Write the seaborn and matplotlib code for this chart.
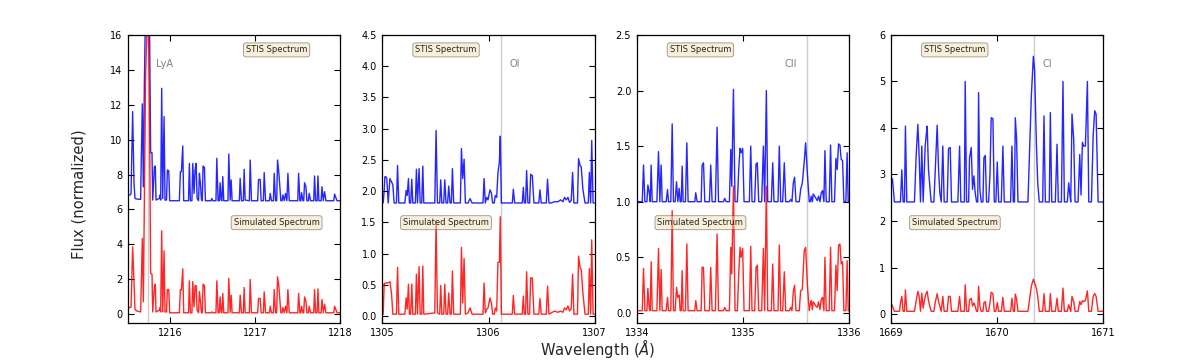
import matplotlib
matplotlib.use("Agg")
import matplotlib.pyplot as plt
import seaborn as sns
from matplotlib.ticker import MultipleLocator

# ---- data (wavelength in Angstrom, flux normalized) ----
line_names = ["LyA", "OI", "CII", "CI"]
line_waves = [1215.73, 1306.12, 1335.60, 1670.35]

wl_lya = [1215.510, 1215.524, 1215.536, 1215.555, 1215.571, 1215.583, 1215.602, 1215.649, 1215.657, 1215.669,
          1215.681, 1215.693, 1215.708, 1215.735, 1215.751, 1215.767, 1215.783, 1215.791, 1215.811, 1215.822,
          1215.830, 1215.869, 1215.877, 1215.885, 1215.897, 1215.909, 1215.925, 1215.936, 1215.954, 1215.964,
          1215.980, 1215.991, 1216.105, 1216.117, 1216.129, 1216.145, 1216.156, 1216.213, 1216.223, 1216.235,
          1216.253, 1216.263, 1216.278, 1216.290, 1216.302, 1216.314, 1216.331, 1216.341, 1216.353, 1216.365,
          1216.375, 1216.384, 1216.400, 1216.412, 1216.477, 1216.487, 1216.498, 1216.536, 1216.546, 1216.561,
          1216.575, 1216.585, 1216.597, 1216.606, 1216.616, 1216.628, 1216.677, 1216.687, 1216.703, 1216.715,
          1216.726, 1216.811, 1216.821, 1216.836, 1216.858, 1216.868, 1216.880, 1216.929, 1216.939, 1216.954,
          1217.027, 1217.037, 1217.057, 1217.068, 1217.094, 1217.104, 1217.120, 1217.165, 1217.175, 1217.190,
          1217.212, 1217.222, 1217.237, 1217.251, 1217.261, 1217.277, 1217.300, 1217.314, 1217.324, 1217.340,
          1217.355, 1217.371, 1217.383, 1217.399, 1217.499, 1217.509, 1217.524, 1217.535, 1217.544, 1217.560,
          1217.569, 1217.579, 1217.595, 1217.607, 1217.624, 1217.634, 1217.650, 1217.687, 1217.697, 1217.709,
          1217.727, 1217.737, 1217.748, 1217.774, 1217.784, 1217.800, 1217.815, 1217.831, 1217.882, 1217.923,
          1217.933, 1217.961, 1218.000]
stis_lya = [6.83, 6.83, 6.9, 11.61, 7.5, 6.63, 6.6, 6.58, 9.0, 12.05,
            7.3, 13.23, 18.0, 18.0, 18.0, 9.25, 9.25, 6.54, 8.45, 8.49,
            6.54, 6.63, 6.83, 6.54, 12.94, 6.63, 11.32, 6.54, 6.54, 8.26,
            8.22, 6.5, 6.5, 8.16, 8.16, 9.64, 6.5, 6.5, 8.64, 6.5,
            6.5, 8.64, 6.92, 8.26, 8.64, 6.63, 6.5, 8.07, 7.5, 6.58,
            6.5, 8.49, 8.41, 6.5, 6.5, 6.63, 6.5, 6.5, 8.93, 6.5,
            6.5, 7.53, 6.54, 6.5, 7.88, 6.5, 6.5, 9.18, 6.54, 7.69,
            6.5, 6.5, 7.78, 6.5, 6.5, 8.3, 6.54, 6.5, 8.83, 6.5,
            6.5, 7.72, 7.72, 6.5, 6.5, 8.11, 6.5, 6.5, 6.92, 6.5,
            6.5, 8.07, 6.5, 6.5, 8.83, 8.07, 6.5, 6.5, 6.83, 6.5,
            6.92, 6.5, 8.07, 6.5, 6.5, 8.07, 6.5, 6.5, 6.96, 6.5,
            6.5, 7.53, 7.3, 6.5, 6.5, 6.92, 6.5, 6.5, 7.92, 6.5,
            6.5, 7.92, 6.5, 6.5, 7.3, 6.5, 7.02, 6.5, 6.5, 6.5,
            6.88, 6.5, 6.5]
sim_lya = [0.38, 0.38, 0.4, 3.86, 1.76, 0.27, 0.19, 0.13, 1.91, 4.34,
           0.71, 6.54, 13.8, 18.0, 13.04, 2.33, 2.29, 0.13, 1.57, 1.72,
           0.13, 0.23, 0.38, 0.13, 4.78, 0.13, 3.63, 0.13, 0.13, 1.41,
           1.41, 0.08, 0.08, 1.41, 1.38, 2.6, 0.08, 0.08, 1.91, 0.08,
           0.08, 1.87, 0.42, 1.64, 1.64, 0.23, 0.08, 1.3, 0.76, 0.08,
           0.08, 1.72, 1.64, 0.08, 0.08, 0.13, 0.08, 0.08, 1.91, 0.08,
           0.08, 0.99, 0.11, 0.08, 1.19, 0.08, 0.08, 2.05, 0.11, 1.09,
           0.08, 0.08, 1.09, 0.08, 0.08, 1.53, 0.08, 0.08, 1.99, 0.08,
           0.08, 0.9, 0.9, 0.08, 0.08, 1.28, 0.08, 0.08, 0.46, 0.08,
           0.08, 1.41, 0.08, 0.08, 2.14, 1.57, 0.08, 0.08, 0.38, 0.08,
           0.46, 0.08, 1.41, 0.08, 0.08, 1.19, 0.08, 0.08, 0.46, 0.08,
           0.08, 0.99, 0.76, 0.08, 0.08, 0.46, 0.08, 0.08, 1.41, 0.08,
           0.08, 1.45, 0.08, 0.08, 0.84, 0.08, 0.57, 0.08, 0.08, 0.08,
           0.46, 0.08, 0.08]

wl_oi = [1305.008, 1305.017, 1305.024, 1305.033, 1305.042, 1305.055, 1305.071, 1305.086, 1305.099, 1305.111,
         1305.133, 1305.143, 1305.155, 1305.212, 1305.224, 1305.234, 1305.246, 1305.255, 1305.267, 1305.277,
         1305.287, 1305.311, 1305.321, 1305.331, 1305.346, 1305.356, 1305.371, 1305.381, 1305.390, 1305.494,
         1305.506, 1305.519, 1305.540, 1305.550, 1305.560, 1305.578, 1305.588, 1305.600, 1305.615, 1305.625,
         1305.638, 1305.650, 1305.660, 1305.672, 1305.697, 1305.735, 1305.745, 1305.757, 1305.770, 1305.782,
         1305.807, 1305.826, 1305.845, 1305.948, 1305.958, 1305.970, 1305.983, 1305.995, 1306.014, 1306.027,
         1306.039, 1306.054, 1306.064, 1306.077, 1306.089, 1306.102, 1306.111, 1306.121, 1306.152, 1306.224,
         1306.234, 1306.246, 1306.318, 1306.328, 1306.337, 1306.349, 1306.359, 1306.371, 1306.387, 1306.397,
         1306.412, 1306.428, 1306.474, 1306.484, 1306.497, 1306.544, 1306.556, 1306.569, 1306.591, 1306.622,
         1306.654, 1306.679, 1306.701, 1306.716, 1306.732, 1306.748, 1306.763, 1306.779, 1306.792, 1306.804,
         1306.838, 1306.848, 1306.864, 1306.873, 1306.889, 1306.909, 1306.940, 1306.950, 1306.962, 1306.972,
         1306.985, 1307.000]
stis_oi = [1.81, 2.0, 2.23, 2.23, 2.2, 1.81, 2.2, 2.15, 2.1, 1.81,
           1.81, 2.41, 1.81, 1.81, 2.01, 1.93, 2.2, 1.81, 1.81, 2.19,
           1.81, 1.81, 2.35, 1.81, 2.36, 1.81, 1.81, 2.4, 1.81, 1.81,
           2.97, 1.81, 1.81, 2.18, 1.81, 1.81, 2.18, 1.81, 1.81, 2.08,
           1.81, 1.81, 2.36, 1.81, 1.81, 1.81, 2.68, 2.2, 2.51, 1.81,
           1.81, 1.88, 1.81, 1.81, 2.2, 1.81, 1.9, 1.86, 2.02, 1.97,
           1.81, 1.81, 1.93, 1.9, 2.3, 2.46, 2.88, 1.81, 1.81, 1.81,
           2.03, 1.81, 1.81, 2.06, 1.81, 1.81, 2.33, 1.81, 1.81, 2.27,
           2.25, 1.81, 1.81, 2.02, 1.81, 1.81, 2.19, 1.81, 1.81, 1.83,
           1.83, 1.86, 1.83, 1.9, 1.86, 1.9, 1.82, 1.85, 2.3, 1.81,
           1.81, 2.52, 2.4, 2.39, 2.03, 1.81, 1.81, 2.3, 1.81, 2.81,
           1.81, 1.81]
sim_oi = [0.03, 0.52, 0.52, 0.53, 0.53, 0.53, 0.55, 0.37, 0.03, 0.03,
          0.03, 0.78, 0.03, 0.03, 0.29, 0.11, 0.51, 0.03, 0.03, 0.51,
          0.03, 0.03, 0.67, 0.03, 0.79, 0.03, 0.03, 0.8, 0.03, 0.05,
          1.52, 0.05, 0.03, 0.49, 0.03, 0.03, 0.51, 0.03, 0.03, 0.37,
          0.03, 0.03, 0.72, 0.03, 0.03, 0.03, 1.1, 0.21, 0.92, 0.03,
          0.05, 0.13, 0.03, 0.03, 0.53, 0.05, 0.11, 0.13, 0.29, 0.21,
          0.03, 0.03, 0.13, 0.08, 0.86, 0.86, 1.59, 0.03, 0.03, 0.03,
          0.33, 0.03, 0.03, 0.32, 0.03, 0.03, 0.71, 0.03, 0.03, 0.61,
          0.61, 0.03, 0.03, 0.28, 0.03, 0.03, 0.48, 0.03, 0.05, 0.08,
          0.06, 0.08, 0.06, 0.13, 0.1, 0.16, 0.08, 0.12, 0.67, 0.03,
          0.03, 0.96, 0.76, 0.75, 0.37, 0.03, 0.03, 0.76, 0.03, 1.22,
          0.03, 0.03]

wl_cii = [1334.008, 1334.052, 1334.064, 1334.077, 1334.096, 1334.105, 1334.118, 1334.127, 1334.136, 1334.146,
          1334.190, 1334.205, 1334.218, 1334.230, 1334.240, 1334.277, 1334.290, 1334.299, 1334.321, 1334.334,
          1334.346, 1334.362, 1334.375, 1334.387, 1334.400, 1334.409, 1334.419, 1334.428, 1334.437, 1334.459,
          1334.472, 1334.484, 1334.534, 1334.547, 1334.556, 1334.569, 1334.607, 1334.616, 1334.629, 1334.641,
          1334.685, 1334.697, 1334.710, 1334.741, 1334.757, 1334.770, 1334.817, 1334.829, 1334.842, 1334.873,
          1334.886, 1334.895, 1334.911, 1334.926, 1334.948, 1334.961, 1334.973, 1334.983, 1334.998, 1335.011,
          1335.061, 1335.074, 1335.086, 1335.111, 1335.124, 1335.136, 1335.149, 1335.177, 1335.193, 1335.205,
          1335.221, 1335.234, 1335.268, 1335.281, 1335.293, 1335.331, 1335.343, 1335.356, 1335.375, 1335.390,
          1335.403, 1335.437, 1335.450, 1335.462, 1335.475, 1335.487, 1335.500, 1335.531, 1335.544, 1335.560,
          1335.578, 1335.591, 1335.607, 1335.625, 1335.635, 1335.644, 1335.654, 1335.663, 1335.676, 1335.688,
          1335.701, 1335.713, 1335.726, 1335.738, 1335.751, 1335.763, 1335.773, 1335.785, 1335.813, 1335.826,
          1335.838, 1335.863, 1335.876, 1335.888, 1335.901, 1335.914, 1335.926, 1335.939, 1335.951, 1335.970,
          1335.982, 1335.992, 1336.000]
stis_cii = [1.0, 1.0, 1.33, 1.0, 1.0, 1.15, 1.08, 1.0, 1.33, 1.0,
            1.0, 1.45, 1.0, 1.33, 1.0, 1.0, 1.11, 1.0, 1.0, 1.70,
            1.0, 1.0, 1.18, 1.0, 1.12, 1.0, 1.0, 1.32, 1.0, 1.0,
            1.53, 1.0, 1.0, 1.0, 1.08, 1.0, 1.0, 1.33, 1.35, 1.0,
            1.0, 1.33, 1.0, 1.0, 1.67, 1.0, 1.0, 1.03, 1.0, 1.0,
            1.47, 1.14, 2.01, 1.0, 1.0, 1.29, 1.48, 1.44, 1.48, 1.0,
            1.0, 1.50, 1.0, 1.0, 1.34, 1.35, 1.0, 1.0, 1.50, 1.0,
            2.00, 1.0, 1.0, 1.35, 1.0, 1.0, 1.50, 1.0, 1.0, 1.35,
            1.0, 1.0, 1.02, 1.0, 1.17, 1.22, 1.0, 1.0, 1.11, 1.17,
            1.36, 1.53, 1.26, 1.0, 1.0, 1.05, 1.0, 1.07, 1.05, 1.03,
            1.01, 1.05, 1.0, 1.08, 1.10, 1.0, 1.46, 1.0, 1.0, 1.51,
            1.0, 1.0, 1.39, 1.29, 1.52, 1.51, 1.38, 1.37, 1.0, 1.0,
            1.44, 1.0, 1.0]
sim_cii = [0.02, 0.02, 0.40, 0.02, 0.02, 0.22, 0.04, 0.02, 0.46, 0.02,
           0.02, 0.58, 0.02, 0.39, 0.02, 0.02, 0.14, 0.02, 0.02, 0.92,
           0.02, 0.02, 0.23, 0.14, 0.16, 0.02, 0.02, 0.38, 0.02, 0.02,
           0.62, 0.02, 0.02, 0.02, 0.11, 0.02, 0.02, 0.41, 0.41, 0.02,
           0.02, 0.41, 0.02, 0.02, 0.71, 0.02, 0.02, 0.05, 0.02, 0.02,
           0.59, 0.35, 1.14, 0.02, 0.02, 0.35, 0.59, 0.50, 0.58, 0.02,
           0.02, 0.60, 0.02, 0.02, 0.41, 0.43, 0.02, 0.02, 0.58, 0.02,
           1.14, 0.02, 0.02, 0.44, 0.02, 0.02, 0.61, 0.02, 0.02, 0.37,
           0.02, 0.02, 0.05, 0.02, 0.19, 0.25, 0.02, 0.02, 0.20, 0.21,
           0.56, 0.59, 0.26, 0.02, 0.08, 0.11, 0.03, 0.10, 0.08, 0.06,
           0.05, 0.10, 0.03, 0.12, 0.14, 0.02, 0.50, 0.02, 0.02, 0.59,
           0.02, 0.02, 0.43, 0.20, 0.61, 0.62, 0.44, 0.46, 0.02, 0.02,
           0.47, 0.02, 0.02]

wl_ci = [1669.000, 1669.013, 1669.031, 1669.079, 1669.088, 1669.101, 1669.113, 1669.126, 1669.135, 1669.148,
         1669.220, 1669.236, 1669.252, 1669.264, 1669.277, 1669.289, 1669.302, 1669.321, 1669.330, 1669.340,
         1669.352, 1669.365, 1669.377, 1669.403, 1669.415, 1669.434, 1669.447, 1669.459, 1669.472, 1669.487,
         1669.500, 1669.528, 1669.541, 1669.557, 1669.569, 1669.629, 1669.645, 1669.657, 1669.676, 1669.690,
         1669.698, 1669.711, 1669.730, 1669.739, 1669.755, 1669.767, 1669.780, 1669.792, 1669.805, 1669.816,
         1669.824, 1669.836, 1669.849, 1669.865, 1669.874, 1669.887, 1669.899, 1669.918, 1669.931, 1669.943,
         1669.959, 1669.972, 1669.987, 1670.000, 1670.013, 1670.038, 1670.053, 1670.066, 1670.126, 1670.138,
         1670.151, 1670.162, 1670.170, 1670.182, 1670.195, 1670.289, 1670.321, 1670.340, 1670.352, 1670.368,
         1670.381, 1670.396, 1670.428, 1670.440, 1670.453, 1670.478, 1670.490, 1670.500, 1670.513, 1670.547,
         1670.563, 1670.575, 1670.604, 1670.619, 1670.632, 1670.660, 1670.673, 1670.682, 1670.692, 1670.704,
         1670.720, 1670.733, 1670.761, 1670.777, 1670.789, 1670.802, 1670.814, 1670.830, 1670.849, 1670.862,
         1670.887, 1670.903, 1670.918, 1670.931, 1670.950, 1670.997, 1671.000]
stis_ci = [2.93, 2.90, 2.41, 2.41, 2.41, 3.10, 2.41, 2.41, 4.04, 2.41,
           2.41, 3.40, 4.08, 3.40, 2.41, 3.61, 2.41, 3.61, 3.83, 4.04,
           3.11, 2.75, 2.41, 2.41, 3.04, 4.06, 3.11, 2.61, 2.41, 3.61,
           2.41, 2.41, 3.56, 3.58, 2.41, 2.41, 3.61, 2.41, 2.41, 2.41,
           5.00, 2.41, 2.41, 3.36, 3.58, 2.68, 2.97, 2.61, 2.41, 2.41,
           4.76, 2.68, 2.41, 2.41, 3.36, 3.41, 2.41, 2.41, 2.97, 4.22,
           4.20, 2.41, 2.41, 3.27, 2.41, 2.41, 3.61, 2.41, 2.41, 3.61,
           2.41, 2.41, 4.22, 3.76, 2.41, 2.41, 4.69, 5.54, 5.23, 3.69,
           2.82, 2.41, 2.41, 4.26, 2.41, 2.41, 2.41, 4.33, 2.41, 2.41,
           3.65, 2.41, 2.41, 5.00, 2.41, 2.41, 2.82, 2.61, 2.41, 4.30,
           3.76, 2.41, 2.41, 3.43, 2.56, 3.69, 3.61, 3.61, 5.00, 2.41,
           2.41, 3.83, 4.37, 4.30, 2.41, 2.41, 2.41]
sim_ci = [0.24, 0.17, 0.06, 0.06, 0.24, 0.38, 0.06, 0.06, 0.52, 0.06,
          0.06, 0.29, 0.49, 0.38, 0.06, 0.45, 0.13, 0.38, 0.44, 0.49,
          0.29, 0.17, 0.06, 0.06, 0.24, 0.44, 0.27, 0.17, 0.06, 0.38,
          0.06, 0.06, 0.38, 0.38, 0.06, 0.06, 0.38, 0.06, 0.06, 0.06,
          0.63, 0.06, 0.06, 0.31, 0.34, 0.17, 0.24, 0.17, 0.06, 0.06,
          0.60, 0.17, 0.06, 0.06, 0.24, 0.27, 0.06, 0.06, 0.24, 0.47,
          0.44, 0.06, 0.06, 0.25, 0.06, 0.06, 0.36, 0.06, 0.06, 0.34,
          0.06, 0.06, 0.43, 0.32, 0.06, 0.06, 0.60, 0.75, 0.67, 0.56,
          0.38, 0.06, 0.06, 0.44, 0.06, 0.06, 0.06, 0.44, 0.06, 0.06,
          0.34, 0.06, 0.06, 0.56, 0.06, 0.06, 0.20, 0.13, 0.06, 0.38,
          0.27, 0.06, 0.06, 0.27, 0.20, 0.29, 0.27, 0.29, 0.50, 0.06,
          0.06, 0.38, 0.44, 0.38, 0.06, 0.06, 0.06]

# per-panel axis settings
x_ranges = [(1215.5, 1218.0), (1305.0, 1307.0), (1334.0, 1336.0), (1669.0, 1671.0)]
y_ranges = [(-0.5, 16.0), (-0.11, 4.5), (-0.09, 2.5), (-0.19, 6.0)]
y_steps = [2, 0.5, 0.5, 1]


def style_axes(ax, xr, yr, ystep):
    ax.set_xlim(*xr)
    ax.set_ylim(*yr)
    ax.xaxis.set_major_locator(MultipleLocator(1))
    ax.yaxis.set_major_locator(MultipleLocator(ystep))
    ax.tick_params(direction="in", top=True, right=True, length=4, width=0.8,
                   labelsize=7, colors="black", pad=4)
    for sp in ax.spines.values():
        sp.set_visible(True)
        sp.set_color("black")
        sp.set_linewidth(0.9)
    ax.set_xlabel("")
    ax.set_ylabel("")


def main():
    sns.set_style("ticks")
    plt.rcParams["font.family"] = ["DejaVu Sans"]
    plt.rcParams["mathtext.fontset"] = "dejavusans"

    spectra = [(wl_lya, stis_lya, sim_lya), (wl_oi, stis_oi, sim_oi),
               (wl_cii, stis_cii, sim_cii), (wl_ci, stis_ci, sim_ci)]

    fig, axes = plt.subplots(1, 4, figsize=(11.96, 3.6), dpi=100)
    plt.subplots_adjust(left=0.107, right=0.9226, bottom=0.103, top=0.903, wspace=0.198)

    box = dict(boxstyle="round", facecolor="wheat", alpha=0.5, edgecolor="0.2", linewidth=0.6)
    for i, ax in enumerate(axes):
        wl, stis, sim = spectra[i]
        ax.axvline(line_waves[i], color="0.8", lw=1, zorder=0)
        sns.lineplot(x=wl, y=stis, color="blue", lw=1, alpha=0.85, ax=ax,
                     estimator=None, sort=False)
        sns.lineplot(x=wl, y=sim, color="red", lw=1, alpha=0.85, ax=ax,
                     estimator=None, sort=False)
        style_axes(ax, x_ranges[i], y_ranges[i], y_steps[i])

        bx = 0.70 if i == 0 else 0.30
        ax.text(bx, 0.948, "STIS Spectrum", transform=ax.transAxes, ha="center",
                va="center", fontsize=6, bbox=box)
        ax.text(bx, 0.348, "Simulated Spectrum", transform=ax.transAxes, ha="center",
                va="center", fontsize=6, bbox=box)

        # line name next to the marker (CII sits on the left side)
        left = line_names[i] == "CII"
        ax.annotate(line_names[i], xy=(line_waves[i], 0.90),
                    xycoords=("data", "axes fraction"),
                    xytext=(-7 if left else 6, 0), textcoords="offset points",
                    ha="right" if left else "left", va="center",
                    fontsize=7, color="0.5")

    fig.text(0.5, 0.032, "Wavelength ($\\AA$)", ha="center", va="center", fontsize=10.6)
    fig.text(0.066, 0.46, "Flux (normalized)", ha="center", va="center",
             rotation=90, fontsize=10.6)

    fig.savefig("out.png", dpi=100)
    plt.close(fig)


if __name__ == "__main__":
    main()
